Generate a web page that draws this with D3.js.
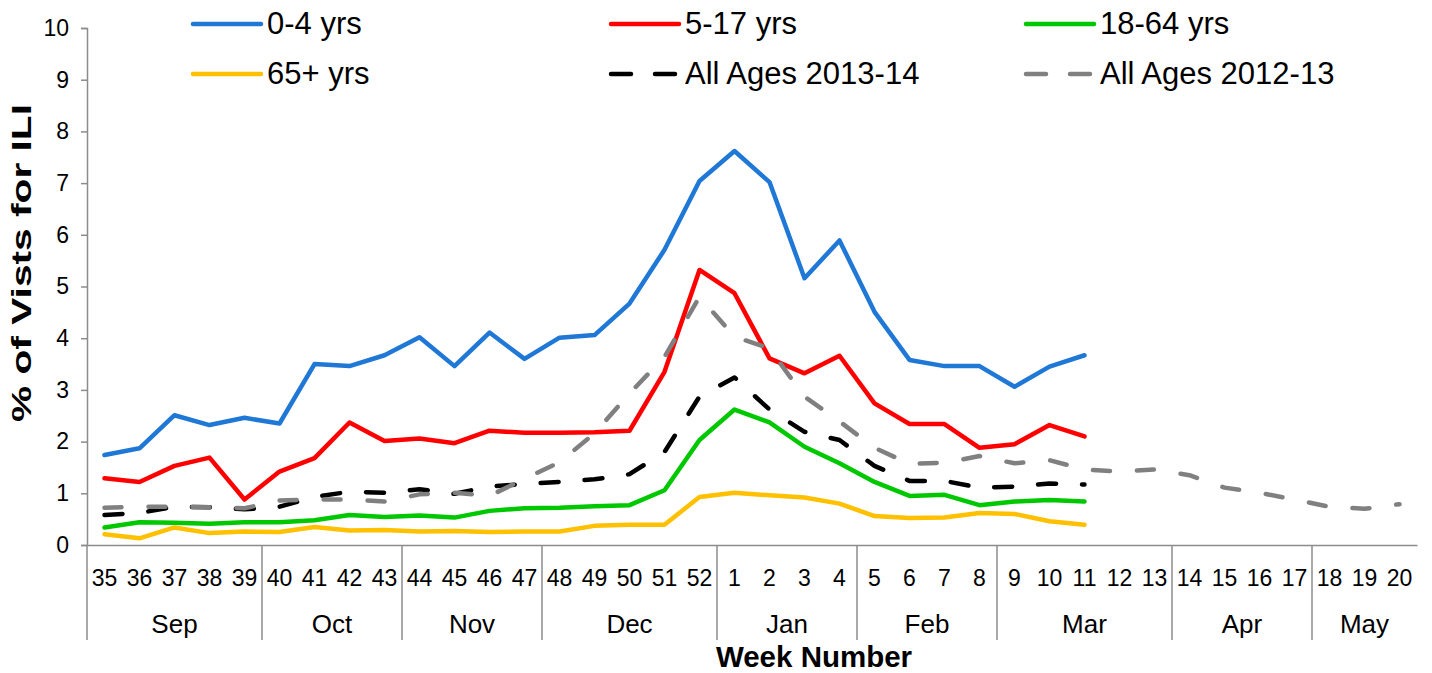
<!DOCTYPE html>
<html><head><meta charset="utf-8">
<script src="https://cdn.jsdelivr.net/npm/d3@7"></script>
<style>
body{margin:0;background:#fff}
svg{display:block}
text{font-family:"Liberation Sans",Arial,sans-serif;fill:#000}
</style>
</head><body>
<svg id="chart" width="1432" height="673"></svg>
<script>
// ---------- data ----------
const weeks = ["35","36","37","38","39","40","41","42","43","44","45","46","47","48","49","50","51","52",
  "1","2","3","4","5","6","7","8","9","10","11","12","13","14","15","16","17","18","19","20"];
const months = ["Sep","Oct","Nov","Dec","Jan","Feb","Mar","Apr","May"];
const monthWeekCounts = [5,4,4,5,4,4,5,4,3];
const yTicks = [0,1,2,3,4,5,6,7,8,9,10];
const seriesNames = ["0-4 yrs","5-17 yrs","18-64 yrs","65+ yrs","All Ages 2013-14","All Ages 2012-13"];

const age0_4   = [1.74,1.87,2.51,2.32,2.46,2.35,3.50,3.46,3.67,4.02,3.46,4.11,3.60,4.01,4.06,4.67,5.71,7.04,7.62,7.02,5.16,5.89,4.51,3.58,3.46,3.46,3.06,3.45,3.67];
const age5_17  = [1.29,1.22,1.53,1.69,0.88,1.42,1.68,2.37,2.01,2.06,1.97,2.21,2.17,2.17,2.18,2.21,3.35,5.32,4.87,3.61,3.32,3.66,2.74,2.34,2.34,1.88,1.95,2.32,2.10];
const age18_64 = [0.34,0.44,0.43,0.41,0.44,0.44,0.48,0.58,0.54,0.57,0.53,0.66,0.71,0.72,0.75,0.77,1.06,2.03,2.62,2.37,1.90,1.58,1.22,0.95,0.97,0.77,0.84,0.87,0.84];
const age65    = [0.21,0.13,0.34,0.23,0.26,0.25,0.35,0.28,0.29,0.26,0.27,0.25,0.26,0.26,0.37,0.39,0.39,0.93,1.01,0.96,0.92,0.80,0.56,0.52,0.53,0.62,0.60,0.46,0.39];
const all2013  = [0.58,0.62,0.74,0.73,0.69,0.74,0.93,1.03,1.01,1.08,0.99,1.13,1.18,1.22,1.27,1.37,1.80,2.87,3.24,2.62,2.19,2.03,1.53,1.24,1.24,1.11,1.13,1.19,1.17];
const all2012  = [0.72,0.74,0.74,0.73,0.71,0.86,0.88,0.88,0.84,0.98,1.01,0.95,1.28,1.60,2.16,2.93,3.64,4.80,4.03,3.80,2.87,2.39,1.88,1.57,1.59,1.72,1.58,1.64,1.46,1.42,1.46,1.35,1.11,1.01,0.88,0.74,0.70,0.79];

const seriesValues = [age0_4, age5_17, age18_64, age65, all2013, all2012];

// ---------- styles ----------
const colors = ["#1F77D6","#FF0000","#00C800","#FFC000","#000000","#808080"];
const dashes = [null,null,null,null,"18,26","17,27"];
const axisColor = "#8C8C8C";

// ---------- layout ----------
const svg = d3.select("#chart");
const M = { left: 87, right: 1417, top: 28, bottom: 545 };

const x = d3.scaleBand().domain(weeks).range([M.left, M.right]).padding(0);
const y = d3.scaleLinear().domain([0, 10]).range([M.bottom, M.top]);

// y axis
const yAxis = d3.axisLeft(y).tickValues(yTicks).tickSize(6).tickPadding(12).tickFormat(d3.format("d"));
const gy = svg.append("g").attr("transform", `translate(${M.left},0)`).call(yAxis);
gy.select(".domain").attr("stroke", axisColor).attr("stroke-width", 1.5);
gy.selectAll(".tick line").attr("stroke", axisColor).attr("stroke-width", 1.5);
gy.selectAll(".tick text").style("font-size", "23px").style("font-family", "'Liberation Sans',Arial,sans-serif").attr("fill", "#000");

// x axis (line only, multi-level labels below)
const xAxis = d3.axisBottom(x).tickSize(0).tickFormat("");
const gx = svg.append("g").attr("transform", `translate(0,${M.bottom})`).call(xAxis);
gx.select(".domain").attr("stroke", axisColor).attr("stroke-width", 1.5);

// week labels
svg.append("g").selectAll("text").data(weeks).join("text")
  .attr("x", d => x(d) + x.bandwidth() / 2)
  .attr("y", 586)
  .attr("text-anchor", "middle")
  .style("font-size", "23px")
  .text(d => d);

// month groups
let idx = 0;
const groups = months.map((m, i) => {
  const g = { name: m, start: idx, count: monthWeekCounts[i] };
  idx += monthWeekCounts[i];
  return g;
});
const sepG = svg.append("g");
groups.forEach(g => {
  const x0 = x(weeks[g.start]);
  const x1 = x(weeks[g.start + g.count - 1]) + x.bandwidth();
  sepG.append("line").attr("x1", x0).attr("x2", x0).attr("y1", M.bottom).attr("y2", 640)
    .attr("stroke", axisColor).attr("stroke-width", 1.5);
  sepG.append("text").attr("x", (x0 + x1) / 2).attr("y", 633)
    .attr("text-anchor", "middle").style("font-size", "26px").text(g.name);
});

// axis titles
svg.append("text").attr("x", 814).attr("y", 666.5).attr("text-anchor", "middle")
  .style("font-size", "29.5px").style("font-weight", "bold").text("Week Number");
svg.append("text").attr("transform", "translate(31,263) rotate(-90)").attr("text-anchor", "middle")
  .attr("textLength", 318).attr("lengthAdjust", "spacingAndGlyphs")
  .style("font-size", "27px").style("font-weight", "bold").text("% of Vists for ILI");

// lines
const line = d3.line()
  .defined(d => d.v != null)
  .x(d => x(d.w) + x.bandwidth() / 2)
  .y(d => y(d.v));

seriesValues.forEach((vals, i) => {
  const pts = vals.map((v, j) => ({ w: weeks[j], v }));
  svg.append("path").datum(pts)
    .attr("fill", "none")
    .attr("stroke", colors[i])
    .attr("stroke-width", 4.5)
    .attr("stroke-linejoin", "round")
    .attr("stroke-linecap", "round")
    .attr("stroke-dasharray", dashes[i])
    .attr("d", line);
});

// legend
const legCols = [191, 609, 1024];
const legRows = [24, 74];
const lg = svg.append("g");
seriesNames.forEach((name, i) => {
  const cx = legCols[i % 3], cy = legRows[Math.floor(i / 3)];
  lg.append("line").attr("x1", cx + 2).attr("x2", cx + 70).attr("y1", cy).attr("y2", cy)
    .attr("stroke", colors[i]).attr("stroke-width", 4.5).attr("stroke-linecap", "round")
    .attr("stroke-dasharray", dashes[i] ? "20,24" : null);
  lg.append("text").attr("x", cx + 76).attr("y", cy + 10)
    .style("font-size", "31px").text(name);
});
</script>
</body></html>
